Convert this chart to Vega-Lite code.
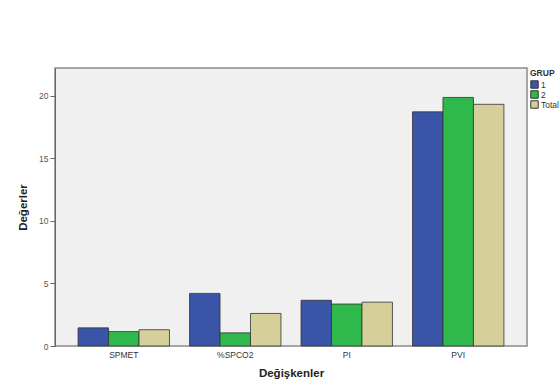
{
  "$schema": "https://vega.github.io/schema/vega-lite/v6.json",
  "width": 472,
  "height": 278,
  "autosize": {"type": "none"},
  "padding": {"left": 55, "top": 68, "right": 32, "bottom": 41},
  "background": "white",
  "config": {
    "font": "Liberation Sans",
    "view": {"fill": "#f0f0f0", "stroke": "#8a8a8a", "strokeWidth": 1.5}
  },
  "data": {
    "values": [
      {"var": "SPMET", "grup": "1", "value": 1.45},
      {"var": "SPMET", "grup": "2", "value": 1.15},
      {"var": "SPMET", "grup": "Total", "value": 1.3},
      {"var": "%SPCO2", "grup": "1", "value": 4.2},
      {"var": "%SPCO2", "grup": "2", "value": 1.05},
      {"var": "%SPCO2", "grup": "Total", "value": 2.6},
      {"var": "PI", "grup": "1", "value": 3.65},
      {"var": "PI", "grup": "2", "value": 3.35},
      {"var": "PI", "grup": "Total", "value": 3.5},
      {"var": "PVI", "grup": "1", "value": 18.7},
      {"var": "PVI", "grup": "2", "value": 19.85},
      {"var": "PVI", "grup": "Total", "value": 19.3}
    ]
  },
  "mark": {"type": "bar", "stroke": "#333333", "strokeWidth": 1, "strokeOpacity": 0.8},
  "encoding": {
    "x": {
      "field": "var",
      "type": "nominal",
      "sort": ["SPMET", "%SPCO2", "PI", "PVI"],
      "scale": {"paddingInner": 0.18, "paddingOuter": 0.207},
      "axis": {
        "title": "Değişkenler",
        "titleFont": "Liberation Sans",
        "titleFontSize": 11.5,
        "titleFontWeight": "bold",
        "titleColor": "#222222",
        "titlePadding": 9,
        "labelAngle": 0,
        "labelFontSize": 8.5,
        "labelColor": "#333333",
        "labelPadding": 4,
        "ticks": false,
        "domain": false
      }
    },
    "xOffset": {"field": "grup", "type": "nominal", "sort": ["1", "2", "Total"]},
    "y": {
      "field": "value",
      "type": "quantitative",
      "scale": {"domain": [0, 22.2], "nice": false},
      "axis": {
        "title": "Değerler",
        "titleFont": "Liberation Sans",
        "titleFontSize": 11.5,
        "titleFontWeight": "bold",
        "titleColor": "#222222",
        "titlePadding": 10,
        "values": [0, 5, 10, 15, 20],
        "grid": false,
        "labelFontSize": 8.5,
        "labelColor": "#555555",
        "tickColor": "#666666",
        "tickSize": 5,
        "domainColor": "#666666",
        "labelPadding": 2
      }
    },
    "color": {
      "field": "grup",
      "type": "nominal",
      "scale": {"domain": ["1", "2", "Total"], "range": ["#3a55a8", "#2fb84b", "#d5d09a"]},
      "legend": {
        "title": "GRUP",
        "orient": "none",
        "legendX": 475,
        "legendY": 1,
        "titleFontSize": 8.5,
        "titleFontWeight": "bold",
        "titleColor": "#333333",
        "titlePadding": 2,
        "labelFontSize": 8.5,
        "labelColor": "#333333",
        "labelOffset": 2,
        "symbolType": "square",
        "symbolSize": 55,
        "symbolStrokeColor": "#333333",
        "symbolStrokeWidth": 1,
        "rowPadding": 0,
        "clipHeight": 10
      }
    }
  }
}
